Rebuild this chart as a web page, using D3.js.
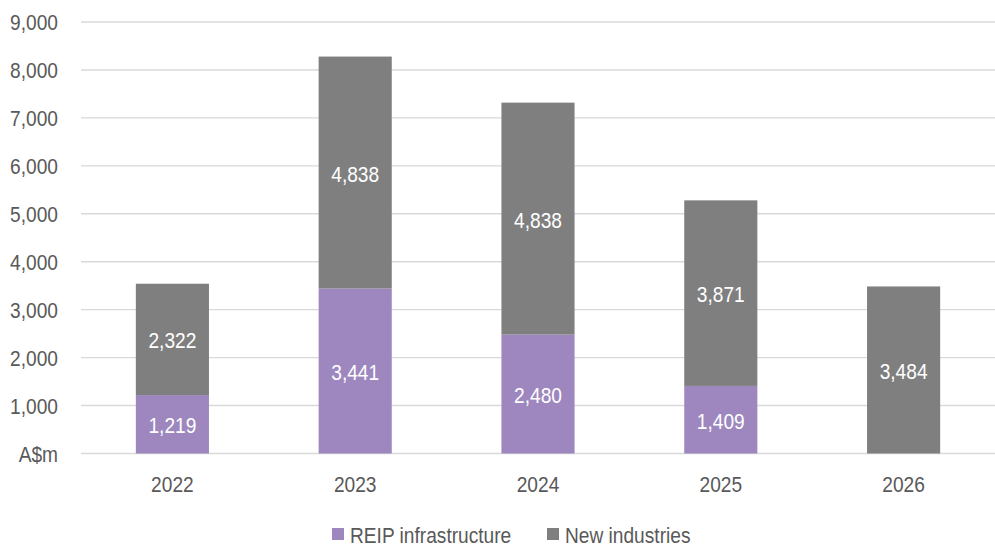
<!DOCTYPE html>
<html><head><meta charset="utf-8">
<script src="https://cdn.jsdelivr.net/npm/d3@7"></script>
<style>
body{margin:0;background:#fff;}
svg{display:block;font-family:"Liberation Sans",Arial,sans-serif;}
</style></head>
<body>
<svg id="chart" width="995" height="547"></svg>
<script>
const years = ["2022","2023","2024","2025","2026"];
const reip = [1219, 3441, 2480, 1409, 0];
const newInd = [2322, 4838, 4838, 3871, 3484];
const seriesNames = ["REIP infrastructure","New industries"];
const seriesColors = ["#9D87BE","#7F7F7F"];
const yTicks = [0,1000,2000,3000,4000,5000,6000,7000,8000,9000];

const svg = d3.select("#chart");
const plotLeft = 81, plotRight = 995, plotTop = 22, plotBottom = 453.5;
const SX = 0.87, FS = 22;

const x = d3.scaleBand().domain(years).range([plotLeft, plotRight]).paddingInner(0.6).paddingOuter(0.3);
const y = d3.scaleLinear().domain([0, 9000]).range([plotBottom, plotTop]);

// gridlines
svg.append("g").selectAll("line").data(yTicks).join("line")
  .attr("x1", plotLeft).attr("x2", plotRight)
  .attr("y1", d => y(d)).attr("y2", d => y(d))
  .attr("stroke", "#D9D9D9").attr("stroke-width", 1.4);

function sText(g, tx, ty, txt, anchor, fill){
  return g.append("text")
    .attr("transform", `translate(${tx},${ty}) scale(${SX},1)`)
    .attr("text-anchor", anchor)
    .attr("dominant-baseline", "central")
    .attr("font-size", FS).attr("fill", fill).text(txt);
}

// y axis labels
const fmt = d3.format(",");
const ya = svg.append("g");
yTicks.forEach(t => sText(ya, 58, y(t), t === 0 ? "A$m" : fmt(t), "end", "#595959"));

// x axis labels
const xa = svg.append("g");
years.forEach(yr => sText(xa, x(yr) + x.bandwidth()/2, 484, yr, "middle", "#595959"));

// stacked bars
const data = years.map((yr, i) => ({year: yr, reip: reip[i], newInd: newInd[i]}));
const stack = d3.stack().keys(["reip","newInd"])(data);
const bars = svg.append("g");
stack.forEach((s, si) => {
  s.forEach(seg => {
    const v = seg[1] - seg[0];
    if (v <= 0) return;
    bars.append("rect")
      .attr("x", x(seg.data.year)).attr("width", x.bandwidth())
      .attr("y", y(seg[1])).attr("height", y(seg[0]) - y(seg[1]))
      .attr("fill", seriesColors[si]);
  });
});
const labels = svg.append("g");
stack.forEach((s, si) => {
  s.forEach(seg => {
    const v = seg[1] - seg[0];
    if (v <= 0) return;
    sText(labels, x(seg.data.year) + x.bandwidth()/2, (y(seg[0]) + y(seg[1]))/2 + 1, fmt(v), "middle", "#FFFFFF");
  });
});

// legend
const lg = svg.append("g");
const legendX = [332, 547];
seriesNames.forEach((n, i) => {
  lg.append("rect").attr("x", legendX[i]).attr("y", 528).attr("width", 12).attr("height", 12).attr("fill", seriesColors[i]);
  sText(lg, legendX[i] + 18, 535, n, "start", "#595959");
});
</script>
</body></html>
